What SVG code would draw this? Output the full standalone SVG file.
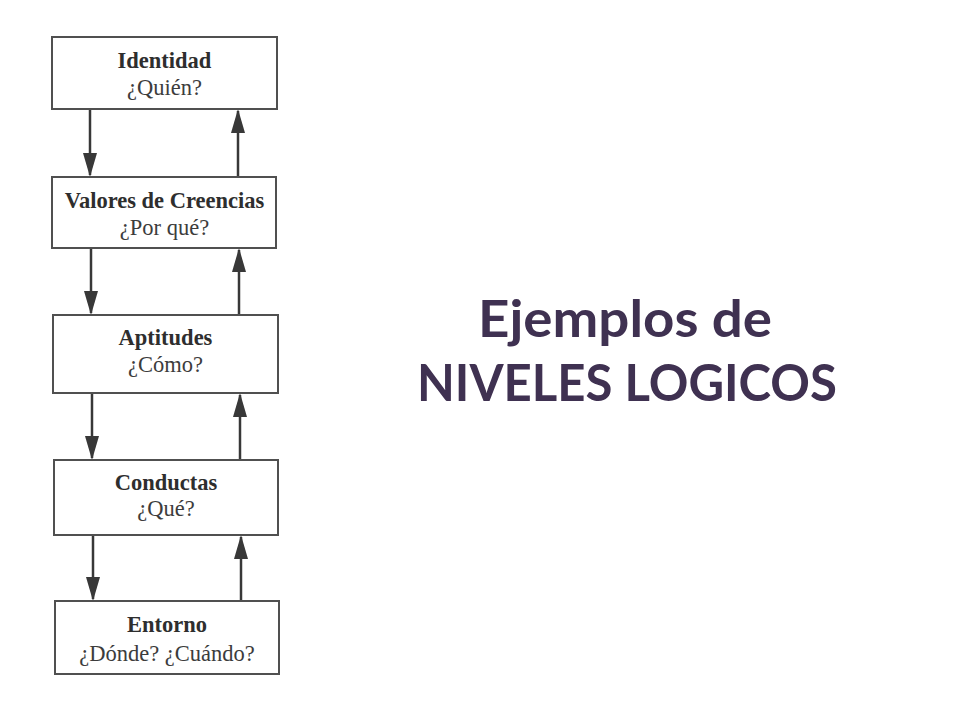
<svg xmlns="http://www.w3.org/2000/svg" width="960" height="720" viewBox="0 0 960 720">
<defs>
<style>
.box{fill:#ffffff;stroke:#505050;stroke-width:2}
.t1{font-family:"Liberation Serif","Times New Roman",serif;font-weight:bold;font-size:22.5px;fill:#2e2e2e;text-anchor:middle}
.t2{font-family:"Liberation Serif","Times New Roman",serif;font-size:22.5px;fill:#3c3c3c;text-anchor:middle}
.ln{stroke:#383838;stroke-width:2.5;fill:none;marker-end:url(#ah)}
.title{font-family:Lato,"Open Sans",sans-serif;font-weight:bold;font-size:52px;fill:#3f3151;text-anchor:middle}
</style>
<marker id="ah" markerUnits="userSpaceOnUse" markerWidth="24" markerHeight="14" viewBox="0 0 24 14" refX="22" refY="7" orient="auto">
<path d="M0,0 L24,7 L0,14 Z" fill="#383838"/>
</marker>
</defs>
<rect width="960" height="720" fill="#ffffff"/>
<g id="connectors">
<path class="ln" d="M90,109 L90,175"/>
<path class="ln" d="M238,177 L238,111"/>
<path class="ln" d="M91,248 L91,313"/>
<path class="ln" d="M239,315 L239,250"/>
<path class="ln" d="M92,393 L92,458"/>
<path class="ln" d="M240,460 L240,395"/>
<path class="ln" d="M93,535 L93,599"/>
<path class="ln" d="M241,601 L241,537"/>
</g>
<g id="identidad">
<rect class="box" x="52" y="37" width="225" height="72"/>
<text class="t1" x="164.5" y="68">Identidad</text>
<text class="t2" x="164.5" y="95">¿Quién?</text>
</g>
<g id="valores">
<rect class="box" x="52" y="177" width="224" height="71"/>
<text class="t1" x="164.5" y="208">Valores de Creencias</text>
<text class="t2" x="164.5" y="235">¿Por qué?</text>
</g>
<g id="aptitudes">
<rect class="box" x="53" y="315" width="225" height="78"/>
<text class="t1" x="165.5" y="345">Aptitudes</text>
<text class="t2" x="165.5" y="372">¿Cómo?</text>
</g>
<g id="conductas">
<rect class="box" x="54" y="460" width="224" height="75"/>
<text class="t1" x="166" y="490">Conductas</text>
<text class="t2" x="166" y="516">¿Qué?</text>
</g>
<g id="entorno">
<rect class="box" x="55" y="601" width="224" height="73"/>
<text class="t1" x="167" y="632">Entorno</text>
<text class="t2" x="167" y="661">¿Dónde? ¿Cuándo?</text>
</g>
<g id="titulo">
<text class="title" x="625" y="337" textLength="294" lengthAdjust="spacingAndGlyphs">Ejemplos de</text>
<text class="title" x="627" y="401" textLength="420" lengthAdjust="spacingAndGlyphs">NIVELES LOGICOS</text>
</g>
</svg>
